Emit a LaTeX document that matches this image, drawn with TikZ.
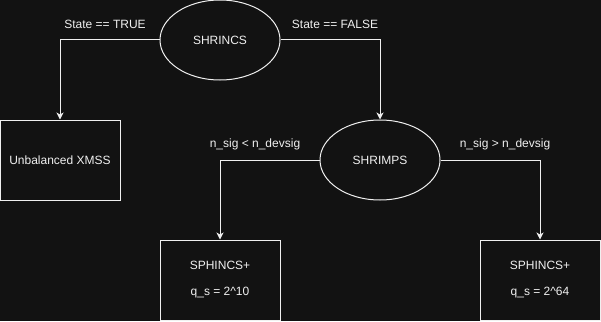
\documentclass[tikz,border=0pt]{standalone}
\usepackage{fontspec}
\setmainfont{Liberation Sans}
\usetikzlibrary{shapes.geometric,arrows.meta}
\definecolor{bg}{HTML}{121212}
\definecolor{fg}{HTML}{F0F0F0}
\begin{document}
\begin{tikzpicture}[x=1pt,y=-1pt,
  every node/.style={font=\fontsize{12}{14}\selectfont, text=fg},
  ell/.style={ellipse, draw=fg, line width=1pt, minimum width=120pt, minimum height=80pt, inner sep=0pt},
  boxnode/.style={rectangle, draw=fg, line width=1pt, minimum width=120pt, minimum height=80pt, inner sep=0pt, align=center},
  conn/.style={draw=fg, line width=1pt, -{Stealth[length=7pt,width=7pt,inset=2pt]}},
  lbl/.style={inner sep=0pt}
]
\fill[bg] (0,0) rectangle (601,321);
\useasboundingbox (0,0) rectangle (601,321);
\node[ell] (shrincs) at (220,40) {SHRINCS};
\node[ell] (shrimps) at (380,160) {SHRIMPS};
\node[boxnode] (xmss) at (60,160) {Unbalanced XMSS};
\node[boxnode] (sph1) at (220,280) {SPHINCS+\\[12pt]q\_s = 2\textasciicircum 10};
\node[boxnode] (sph2) at (540,280) {SPHINCS+\\[12pt]q\_s = 2\textasciicircum 64};
\draw[conn] (shrincs.west) -| (xmss.north);
\draw[conn] (shrincs.east) -| (shrimps.north);
\draw[conn] (shrimps.west) -| (sph1.north);
\draw[conn] (shrimps.east) -| (sph2.north);
\node[lbl] (l1) at (105,24) {State == TRUE};
\node[lbl] (l2) at (335,24) {State == FALSE};
\node[lbl] (l3) at (255,144) {n\_sig < n\_devsig};
\node[lbl] (l4) at (505,144) {n\_sig > n\_devsig};
\end{tikzpicture}
\end{document}
